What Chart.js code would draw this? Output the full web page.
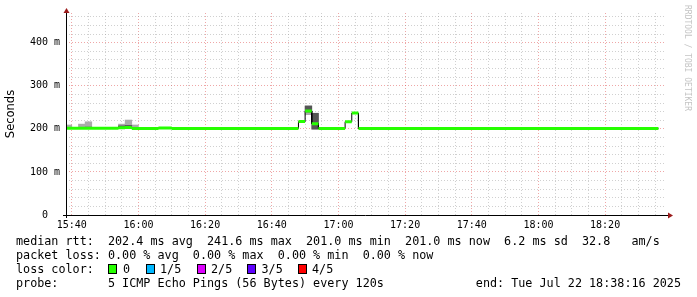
<!DOCTYPE html>
<html><head><meta charset="utf-8">
<script src="https://cdn.jsdelivr.net/npm/chart.js@4"></script>
<style>
html,body{margin:0;padding:0;background:#fff;}
#wrap{position:relative;width:697px;height:297px;overflow:hidden;background:#fff;}
canvas{position:absolute;left:0;top:0;}
.row{position:absolute;font:11.75px "DejaVu Sans Mono",monospace;line-height:14px;white-space:pre;color:#000;}
.box{position:absolute;box-sizing:border-box;width:9px;height:10px;border:1px solid #000;}
.wm{position:absolute;left:682px;top:5px;writing-mode:vertical-rl;font:8px "DejaVu Sans Mono",monospace;line-height:10px;color:#c4c4c4;white-space:pre;}
</style></head><body>
<div id="wrap"><canvas id="c" width="697" height="297"></canvas></div>
<script>
// ---- data ----
const firstBin = '15:38';          // start of first 2-minute bin
const binMinutes = 2;
const medianRtt = [
  201.5,201.5,201.5,201.5,201.5,201.5,201.5,201.5,
  202.8,203.0,
  201.0,201.0,201.0,201.0,
  201.8,201.8,
  201.0,201.0,201.0,201.0,201.0,201.0,201.0,201.0,201.0,201.0,
  201.0,201.0,201.0,201.0,201.0,201.0,201.0,201.0,201.0,
  216.8,241.6,212.0,
  201.0,201.0,201.0,201.0,
  216.6,236.8,
  201.0,201.0,201.0,201.0,201.0,201.0,201.0,201.0,201.0,201.0,
  201.0,201.0,201.0,201.0,201.0,201.0,201.0,201.0,201.0,201.0,
  201.0,201.0,201.0,201.0,201.0,201.0,201.0,201.0,201.0,201.0,
  201.0,201.0,201.0,201.0,201.0,201.0,201.0,201.0,201.0,201.0,
  201.0,201.0,201.0,201.0,201.0
];
// smoke (spread of the 5 pings) for bins where it shows
const smokeBin    = [0,     2,     3,     8,     9,     10,    36,    37];
const smokeLow    = [200.5, 201.0, 201.0, 201.0, 201.0, 200.5, 233.0, 199.0];
const smokeInLow  = [201.0, 201.5, 202.0, 202.0, 202.0, 201.0, 239.0, 199.5];
const smokeInHigh = [203.0, 203.0, 204.0, 207.0, 208.0, 203.0, 253.0, 236.0];
const smokeHigh   = [209.0, 211.0, 216.5, 211.0, 220.5, 209.0, 253.5, 236.5];

const xTickLabels = ['15:40','16:00','16:20','16:40','17:00','17:20','17:40','18:00','18:20'];
const yTickValues = [0, 100, 200, 300, 400];
const yTickLabels = ['0  ', '100 m', '200 m', '300 m', '400 m'];
const axisStart = '15:38:16', axisEnd = '18:38:16';

const legendRows = [
  'median rtt:  202.4 ms avg  241.6 ms max  201.0 ms min  201.0 ms now  6.2 ms sd  32.8   am/s',
  'packet loss: 0.00 % avg  0.00 % max  0.00 % min  0.00 % now',
  'loss color:',
  'probe:       5 ICMP Echo Pings (56 Bytes) every 120s'
];
const endText = 'end: Tue Jul 22 18:38:16 2025';
const lossLabels = ['0', '1/5', '2/5', '3/5', '4/5'];
const lossColors = ['#26ff00', '#00b8ff', '#dd00ff', '#5e00ff', '#ff0000'];
const watermark = 'RRDTOOL / TOBI OETIKER';

// ---- helpers ----
function toMin(s){const p=s.split(':').map(Number);return p[0]*60+p[1]+(p[2]||0)/60;}
const t0 = toMin(firstBin);
const xMin = toMin(axisStart), xMax = toMin(axisEnd);
const xLabelMin = xTickLabels.map(toMin);

const blackPts = [], greenPts = [];
medianRtt.forEach((v,i)=>{
  const s = t0 + i*binMinutes, e = s + binMinutes;
  blackPts.push({x:s,y:v},{x:e,y:v});
  greenPts.push({x:s,y:v},{x:e,y:v},{x:e,y:null});
});
const outer = smokeBin.map((b,i)=>({x:t0+b*binMinutes+binMinutes/2, y:[smokeLow[i], smokeHigh[i]]}));
const inner = smokeBin.map((b,i)=>({x:t0+b*binMinutes+binMinutes/2, y:[smokeInLow[i], smokeInHigh[i]]}));

const GRAY='rgba(150,150,150,0.45)', RED='rgba(220,60,60,0.45)';

const axesPlugin = {
  id:'rrdaxes',
  afterDraw(chart){
    const {ctx, chartArea:a} = chart;
    ctx.save();
    ctx.strokeStyle='#000'; ctx.lineWidth=1;
    ctx.beginPath();
    ctx.moveTo(a.left-3, Math.round(a.bottom)+0.5); ctx.lineTo(a.right+2, Math.round(a.bottom)+0.5);
    ctx.moveTo(Math.round(a.left)+0.5, a.bottom+3); ctx.lineTo(Math.round(a.left)+0.5, a.top);
    ctx.stroke();
    ctx.fillStyle='#9b1b1b';
    const by=Math.round(a.bottom)+0.5, lx=Math.round(a.left)+0.5;
    ctx.beginPath(); ctx.moveTo(a.right+2,by-3); ctx.lineTo(a.right+7,by); ctx.lineTo(a.right+2,by+3); ctx.closePath(); ctx.fill();
    ctx.beginPath(); ctx.moveTo(lx-3,a.top); ctx.lineTo(lx,a.top-5); ctx.lineTo(lx+3,a.top); ctx.closePath(); ctx.fill();
    ctx.restore();
  }
};

new Chart(document.getElementById('c'), {
  type:'line',
  data:{datasets:[
    {type:'bar', data:outer, backgroundColor:'#aaaaaa', borderWidth:0, grouped:false, barPercentage:1, categoryPercentage:1, order:4, clip:0},
    {type:'bar', data:inner, backgroundColor:'#555555', borderWidth:0, grouped:false, barPercentage:1, categoryPercentage:1, order:3, clip:0},
    {type:'line', data:blackPts, borderColor:'#000', borderWidth:1, pointRadius:0, tension:0, fill:false, order:2},
    {type:'line', data:greenPts, borderColor:lossColors[0], borderWidth:3, pointRadius:0, tension:0, fill:false, spanGaps:false, order:1}
  ]},
  options:{
    responsive:false, animation:false, devicePixelRatio:1,
    layout:{padding:{left:0,right:31,top:13,bottom:0}},
    plugins:{legend:{display:false}, tooltip:{enabled:false}},
    scales:{
      x:{type:'linear', min:xMin, max:xMax, offset:false,
        afterFit(s){s.height=82;},
        afterBuildTicks(s){const t=[];for(let v=Math.ceil(xMin/5)*5;v<=xMax;v+=5)t.push({value:v});s.ticks=t;},
        ticks:{autoSkip:false, maxRotation:0, minRotation:0, padding:4, color:'#000',
          font:{family:'DejaVu Sans Mono', size:10},
          callback(v){const i=xLabelMin.indexOf(v);return i>=0?xTickLabels[i]:'';}},
        grid:{offset:false, drawTicks:false, lineWidth:1,
          color(c){return xLabelMin.includes(c.tick.value)?RED:GRAY;}},
        border:{display:false, dash:[1,2]}
      },
      y:{type:'linear', min:0, max:469,
        afterFit(s){s.width=66;},
        afterBuildTicks(s){const t=[];for(let v=0;v<=460;v+=20)t.push({value:v});s.ticks=t;},
        title:{display:true, text:'Seconds', color:'#000', padding:{top:4,bottom:0},
          font:{family:'DejaVu Sans', size:11.5}},
        ticks:{autoSkip:false, padding:6, color:'#000',
          font:{family:'DejaVu Sans Mono', size:10},
          callback(v){const i=yTickValues.indexOf(v);return i>=0?yTickLabels[i]:'';}},
        grid:{drawTicks:false, lineWidth:1,
          color(c){return yTickValues.includes(c.tick.value)?RED:GRAY;}},
        border:{display:false, dash:[1,2]}
      }
    }
  },
  plugins:[axesPlugin]
});

// ---- legend text (HTML) ----
const wrap = document.getElementById('wrap');
function add(cls, text, style){const d=document.createElement('div');d.className=cls;d.textContent=text;Object.assign(d.style,style);wrap.appendChild(d);return d;}
const rowTops = [234, 247.5, 261.5, 275.5];
legendRows.forEach((t,i)=>add('row', t, {left:'16px', top:rowTops[i]+'px'}));
add('row', endText, {right:'16px', top:rowTops[3]+'px'});
const boxX = [108, 145.5, 196.5, 247, 297.5], labX = [123, 160, 211, 261.5, 312];
lossLabels.forEach((l,i)=>{
  const b=document.createElement('div');b.className='box';
  Object.assign(b.style,{left:boxX[i]+'px', top:'264px', background:lossColors[i]});wrap.appendChild(b);
  add('row', l, {left:labX[i]+'px', top:rowTops[2]+'px'});
});
add('wm', watermark, {});
</script>
</body></html>
